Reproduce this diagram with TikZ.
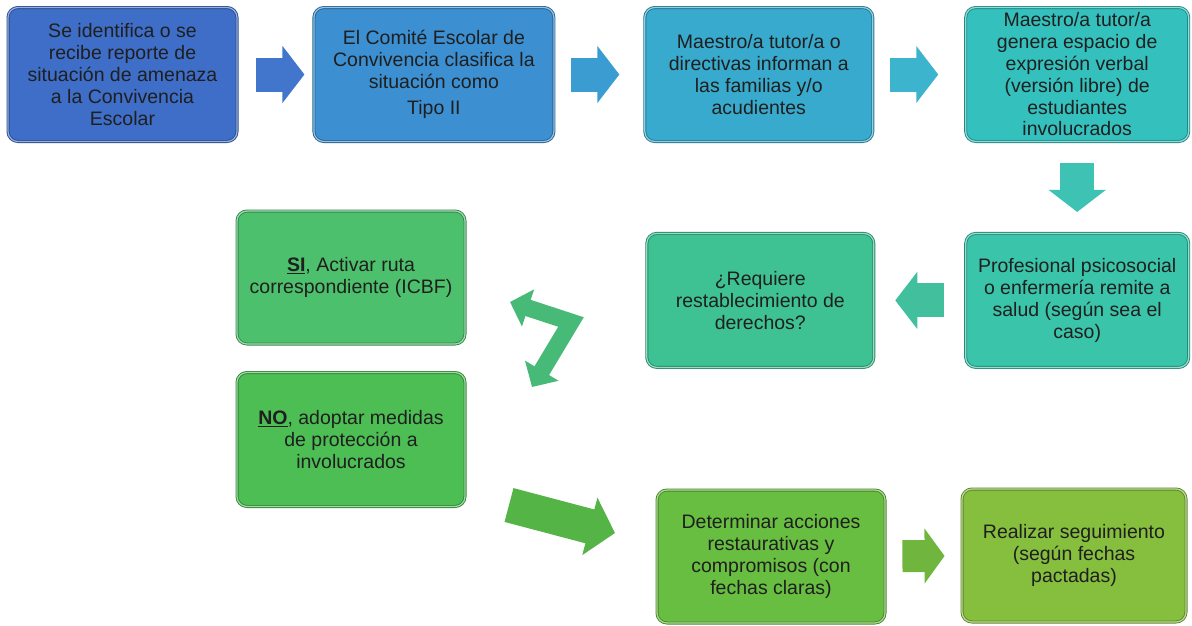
\documentclass[tikz,border=0pt]{standalone}
\usepackage{fontspec}
\setmainfont{Liberation Sans}
\usetikzlibrary{positioning,arrows.meta}
\definecolor{cbone}{RGB}{62,110,200}
\definecolor{cbtwo}{RGB}{60,143,209}
\definecolor{cbthree}{RGB}{56,170,205}
\definecolor{cbfour}{RGB}{52,193,190}
\definecolor{cbfive}{RGB}{58,196,170}
\definecolor{cbsix}{RGB}{62,194,148}
\definecolor{cbsi}{RGB}{76,192,108}
\definecolor{cbno}{RGB}{76,190,84}
\definecolor{cbdet}{RGB}{104,190,64}
\definecolor{cbreal}{RGB}{134,190,62}
\definecolor{caone}{RGB}{66,118,204}
\definecolor{catwo}{RGB}{58,156,208}
\definecolor{cathree}{RGB}{60,180,205}
\definecolor{cadown}{RGB}{62,194,180}
\definecolor{caleft}{RGB}{66,192,158}
\definecolor{cazz}{RGB}{72,186,120}
\definecolor{cabig}{RGB}{84,180,70}
\definecolor{casmall}{RGB}{112,182,62}
\tikzset{
  box/.style={draw=#1!70!black, double=#1!55!white, double distance=1.2pt,
    fill=#1, line width=0.9pt, rounded corners=10pt,
    minimum width=228pt, minimum height=134pt, inner sep=2pt, align=center,
    text=black!88, font=\fontsize{19.5}{21.8}\selectfont},
  blockarr/.style={draw=#1, line width=34pt, -{Triangle[length=22pt,width=56pt]}},
}

\begin{document}
\begin{tikzpicture}[x=1pt,y=-1pt]
\useasboundingbox (0,0) rectangle (1192,625);

% first row
\node[box=cbone, minimum width=229pt] (ident) at (122.5,74.5) {Se identifica o se\\recibe reporte de\\situación de amenaza\\a la Convivencia\\Escolar};
\node[box=cbtwo, minimum width=240pt, right=76pt of ident] (comite) {El Comité Escolar de\\Convivencia clasifica la\\situación como\\[5pt]Tipo II};
\node[box=cbthree, right=90pt of comite] (inform) {Maestro/a tutor/a o\\directivas informan a\\las familias y/o\\acudientes};
\node[box=cbfour, minimum width=223pt, right=92pt of inform] (espacio) {Maestro/a tutor/a\\genera espacio de\\expresión verbal\\(versión libre) de\\estudiantes\\involucrados};

% second row
\node[box=cbfive, minimum width=223pt, below=91pt of espacio] (remite) {Profesional psicosocial\\o enfermería remite a\\salud (según sea el\\caso)};
\node[box=cbsix, minimum width=227pt, left=91pt of remite] (requiere) {¿Requiere\\restablecimiento de\\derechos?};

% yes / no
\node[box=cbsi, minimum height=133pt] (si) at (351,277.5) {\underline{\textbf{SI}}, Activar ruta\\correspondiente (ICBF)};
\node[box=cbno] (no) at (351,439.5) {\underline{\textbf{NO}}, adoptar medidas\\de protección a\\involucrados};

% last row
\node[box=cbdet, minimum height=133pt] (determ) at (771,556.5) {Determinar acciones\\restaurativas y\\compromisos (con\\fechas claras)};
\node[box=cbreal, minimum width=224pt, minimum height=133pt] (seguim) at (1074,555.5) {Realizar seguimiento\\(según fechas\\pactadas)};

% block arrows
\draw[blockarr=caone, shorten <=19pt, shorten >=9pt] (ident) -- (comite);
\draw[blockarr=catwo, shorten <=17pt, shorten >=25pt] (comite) -- (inform);
\draw[blockarr=cathree, shorten <=17pt, shorten >=27pt] (inform) -- (espacio);
\draw[blockarr=cadown, shorten <=21pt, shorten >=21pt] (espacio) -- (remite);
\draw[blockarr=caleft, shorten <=21pt, shorten >=21pt] (remite) -- (requiere);
\draw[blockarr=casmall, line width=32pt, -{Triangle[length=20pt,width=54pt]}, shorten <=17pt, shorten >=17pt] (determ) -- (seguim);

\coordinate (zzsi) at (510,302);
\coordinate (zzc) at (571,322);
\coordinate (zzno) at (532,387);
\draw[draw=cazz, line width=17pt, line join=miter, {Triangle[length=19pt,width=38pt]}-{Triangle[length=19pt,width=38pt]}] (zzsi) -- (zzc) -- (zzno);

\coordinate (bgs) at (509,505);
\coordinate (bge) at (615,533);
\draw[blockarr=cabig, line width=35pt, -{Triangle[length=26pt,width=58pt]}] (bgs) -- (bge);
\end{tikzpicture}
\end{document}
